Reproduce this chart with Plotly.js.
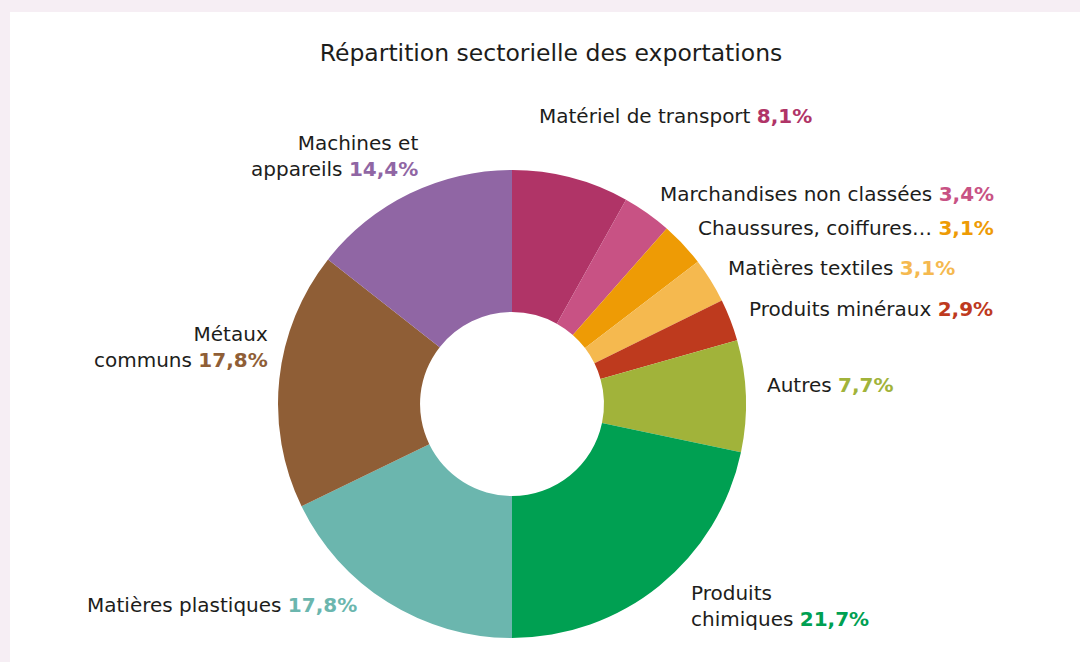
<!DOCTYPE html>
<html>
<head>
<meta charset="utf-8">
<script src="https://cdn.plot.ly/plotly-3.0.1.min.js"></script>
<style>
  html, body { margin: 0; padding: 0; background: #f6eef4; width: 1080px; height: 662px; overflow: hidden; }
  #chart { position: absolute; left: 10px; top: 12px; width: 1070px; height: 650px; background: #ffffff; }
</style>
</head>
<body>
<div id="chart"></div>
<script>
// Data (clockwise from 12 o'clock)
const sectors = [
  "Matériel de transport",
  "Marchandises non classées",
  "Chaussures, coiffures…",
  "Matières textiles",
  "Produits minéraux",
  "Autres",
  "Produits chimiques",
  "Matières plastiques",
  "Métaux communs",
  "Machines et appareils"
];
const sectorLabelText = [
  "Matériel de transport",
  "Marchandises non classées",
  "Chaussures, coiffures…",
  "Matières textiles",
  "Produits minéraux",
  "Autres",
  "Produits<br>chimiques",
  "Matières plastiques",
  "Métaux<br>communs",
  "Machines et<br>appareils"
];
const shares = [8.1, 3.4, 3.1, 3.1, 2.9, 7.7, 21.7, 17.8, 17.8, 14.4];
const colors = ["#b03467", "#c85284", "#ee9b05", "#f5b94f", "#be3a1e", "#a1b33a", "#00a052", "#6bb6ae", "#8f5e36", "#9066a4"];

// Label placement (page pixels): [x, y, anchor]
const labelPos = [
  [537, 116, "left"],
  [658, 194, "left"],
  [696, 228, "left"],
  [726, 268, "left"],
  [747, 309, "left"],
  [765, 385, "left"],
  [689, 606, "left"],
  [359, 605, "right"],
  [270, 347, "right"],
  [420, 156, "right"]
];

const W = 1070, H = 650, OX = 10, OY = 12;
const cx = 512 - OX, cy = 404 - OY, R = 234;
const FONT = "'DejaVu Sans', 'Noto Sans', sans-serif";

const annotations = sectors.map((s, i) => {
  const [px, py, anc] = labelPos[i];
  const pct = shares[i].toFixed(1).replace(".", ",") + "%";
  return {
    xref: "paper", yref: "paper",
    x: (px - OX) / W, y: 1 - (py - OY) / H,
    xanchor: anc, yanchor: "middle", align: anc,
    showarrow: false,
    text: sectorLabelText[i] + ' <span style="color:' + colors[i] + '"><b>' + pct + '</b></span>',
    font: { family: FONT, size: 20, color: "#1d1d1b" }
  };
});

const trace = {
  type: "pie",
  labels: sectors,
  values: shares,
  sort: false,
  direction: "clockwise",
  rotation: 0,
  hole: 0.393,
  textinfo: "none",
  hoverinfo: "label+percent",
  marker: { colors: colors, line: { color: "#ffffff", width: 0 } },
  domain: { x: [(cx - R) / W, (cx + R) / W], y: [1 - (cy + R) / H, 1 - (cy - R) / H] },
  showlegend: false
};

const layout = {
  width: W, height: H,
  margin: { l: 0, r: 0, t: 0, b: 0 },
  paper_bgcolor: "#ffffff",
  title: {
    text: "Répartition sectorielle des exportations",
    x: (551 - OX) / W, xanchor: "center",
    y: 1 - (53 - OY) / H, yanchor: "middle",
    font: { family: FONT, size: 23.5, color: "#1d1d1b" }
  },
  annotations: annotations,
  showlegend: false
};

Plotly.newPlot("chart", [trace], layout, { displayModeBar: false, staticPlot: true });
</script>
</body>
</html>
